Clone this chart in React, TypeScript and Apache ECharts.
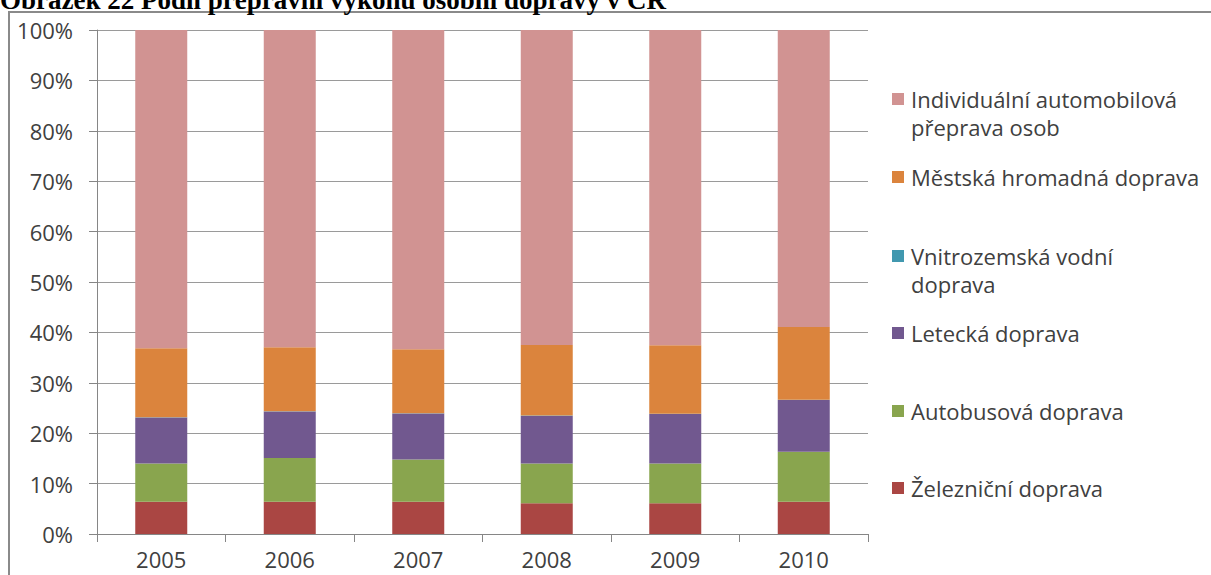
import React, { useEffect, useRef } from "react";
import * as echarts from "echarts";

const titleText = "Obrázek 22 Podíl přepravní výkonů osobní dopravy v ČR";
const years = ["2005", "2006", "2007", "2008", "2009", "2010"];
const yTickLabels = ["0%", "10%", "20%", "30%", "40%", "50%", "60%", "70%", "80%", "90%", "100%"];

const rail = [6.4, 6.4, 6.4, 6.1, 6.1, 6.4];
const bus = [7.6, 8.7, 8.4, 7.9, 7.9, 9.9];
const air = [9.1, 9.2, 9.1, 9.4, 9.8, 10.3];
const water = [0.05, 0.05, 0.05, 0.1, 0.05, 0.05];
const urban = [13.7, 12.7, 12.7, 14.0, 13.6, 14.4];
const individual = [63.2, 63.0, 63.4, 62.6, 62.6, 59.0];

const seriesNames = [
  "Železniční doprava",
  "Autobusová doprava",
  "Letecká doprava",
  "Vnitrozemská vodní doprava",
  "Městská hromadná doprava",
  "Individuální automobilová přeprava osob",
];
const legendLabels = [
  "Železniční doprava",
  "Autobusová doprava",
  "Letecká doprava",
  "Vnitrozemská vodní\ndoprava",
  "Městská hromadná doprava",
  "Individuální automobilová\npřeprava osob",
];
const colors = ["#AA4643", "#89A54E", "#71588F", "#4198AF", "#DB843D", "#D19392"];
const seriesData = [rail, bus, air, water, urban, individual];

export default function App() {
  const ref = useRef<HTMLDivElement>(null);
  useEffect(() => {
    if (!ref.current) return;
    const chart = echarts.init(ref.current, null, { renderer: "svg" });
    const legendY = [488, 411, 333, 256, 177, 99];
    const graphics: any[] = [
      {
        type: "rect",
        shape: { x: 9, y: 12, width: 1250, height: 620 },
        style: { fill: "none", stroke: "#8a8a8a", lineWidth: 2 },
        silent: true,
      },
      {
        type: "text",
        x: 0,
        y: 13,
        style: {
          text: titleText,
          font: "bold 27px 'Liberation Serif', serif",
          fill: "#000",
          verticalAlign: "bottom",
          align: "left",
        },
      },
    ];
    legendLabels.forEach((lab, i) => {
      graphics.push({
        type: "rect",
        shape: { x: 892, y: legendY[i] - 6, width: 12, height: 12 },
        style: { fill: colors[i] },
      });
      graphics.push({
        type: "text",
        x: 911,
        y: legendY[i] - 14,
        style: {
          text: lab,
          fontFamily: "Open Sans",
          fontSize: 22,
          lineHeight: 28,
          fill: "#404040",
          verticalAlign: "top",
          align: "left",
        },
      });
    });
    chart.setOption({
      animation: false,
      color: colors,
      grid: { left: 97, right: 343, top: 30, bottom: 41, containLabel: false },
      xAxis: {
        type: "category",
        data: years,
        axisLine: { lineStyle: { color: "#868686", width: 1 } },
        axisTick: { show: true, length: 8, lineStyle: { color: "#868686" } },
        axisLabel: {
          fontFamily: "Open Sans",
          fontSize: 22,
          lineHeight: 20,
          color: "#404040",
          margin: 15,
        },
      },
      yAxis: {
        type: "value",
        min: 0,
        max: 100,
        interval: 10,
        axisLine: { show: true, lineStyle: { color: "#868686", width: 1 } },
        axisTick: { show: true, length: 8, lineStyle: { color: "#868686" } },
        splitLine: { lineStyle: { color: "#9a9a9a", width: 1 } },
        axisLabel: {
          fontFamily: "Open Sans",
          fontSize: 22,
          color: "#404040",
          margin: 24,
          formatter: (v: number) => yTickLabels[Math.round(v / 10)],
        },
      },
      series: seriesData.map((d, i) => ({
        name: seriesNames[i],
        type: "bar",
        stack: "total",
        barWidth: 52,
        data: d,
        itemStyle: { color: colors[i] },
      })),
      graphic: graphics,
    });
    return () => chart.dispose();
  }, []);
  return (
    <div
      ref={ref}
      style={{ position: "absolute", left: 0, top: 0, width: 1211, height: 575, background: "#fff" }}
    />
  );
}
